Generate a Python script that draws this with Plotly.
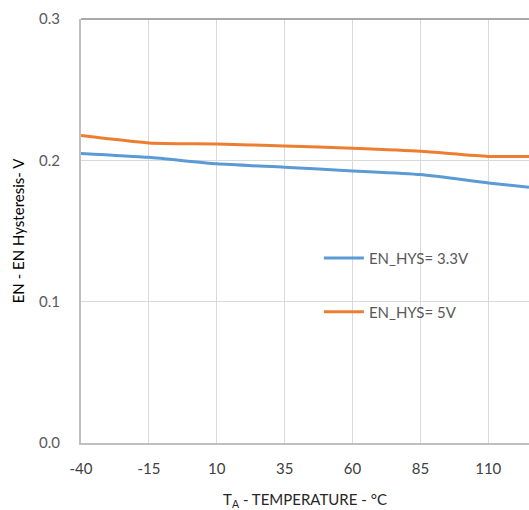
import plotly.graph_objects as go

temps = [-40, -15, 10, 35, 60, 85, 110, 125]
hys_33 = [0.2049, 0.2021, 0.1975, 0.1951, 0.1925, 0.1899, 0.1840, 0.1809]
hys_5 = [0.2175, 0.2123, 0.2116, 0.2102, 0.2085, 0.2064, 0.2028, 0.2028]
x_ticks = [-40, -15, 10, 35, 60, 85, 110]
y_ticks = [0.0, 0.1, 0.2, 0.3]

FONT = "Lato"
FS = 15
fig = go.Figure()
fig.add_trace(go.Scatter(x=temps, y=hys_33, mode="lines", name="EN_HYS= 3.3V",
                         line=dict(color="#5b9bd5", width=3, shape="spline", smoothing=0.6),
                         legend="legend"))
fig.add_trace(go.Scatter(x=temps, y=hys_5, mode="lines", name="EN_HYS= 5V",
                         line=dict(color="#ed7d31", width=3, shape="spline", smoothing=0.6),
                         legend="legend2"))

leg_common = dict(bgcolor="rgba(0,0,0,0)", font=dict(family=FONT, size=FS, color="#595959"),
                  xanchor="left", yanchor="middle", itemwidth=40, tracegroupgap=0)
fig.update_layout(
    width=529, height=510,
    margin=dict(l=81, r=0, t=19, b=67, autoexpand=False),
    paper_bgcolor="white", plot_bgcolor="white",
    showlegend=True,
    legend=dict(x=0.531, y=0.436, **leg_common),
    legend2=dict(x=0.531, y=0.309, **leg_common),
    xaxis=dict(range=[-40, 125], tickvals=x_ticks, ticktext=[str(v) for v in x_ticks],
               showgrid=True, gridcolor="#d9d9d9", gridwidth=1.3,
               showline=True, linecolor="#bfbfbf", linewidth=2, zeroline=False,
               ticks="", tickfont=dict(family=FONT, size=FS, color="#404040"),
               ticklabelstandoff=11, automargin=False,
               title=dict(text="T<sub>A</sub> - TEMPERATURE - °C",
                          font=dict(family=FONT, size=FS, color="#262626"), standoff=26)),
    yaxis=dict(range=[0, 0.3], tickvals=y_ticks, ticktext=[f"{v:.1f}" for v in y_ticks],
               showgrid=True, gridcolor="#d9d9d9", gridwidth=1.3,
               showline=True, linecolor="#bfbfbf", linewidth=2, zeroline=False,
               ticks="", tickfont=dict(family=FONT, size=FS, color="#595959"),
               ticklabelstandoff=16, automargin=False,
               title=dict(text="EN - EN Hysteresis- V",
                          font=dict(family=FONT, size=FS, color="#000000"), standoff=11)),
    shapes=[dict(type="line", xref="paper", yref="paper", x0=0, x1=1, y0=1, y1=1,
                 line=dict(color="#8c8c8c", width=1.5), layer="above")],
)
fig.write_html("out.html", config={"displayModeBar": False},
               post_script="document.body.style.margin='0';document.body.style.overflow='hidden';")
